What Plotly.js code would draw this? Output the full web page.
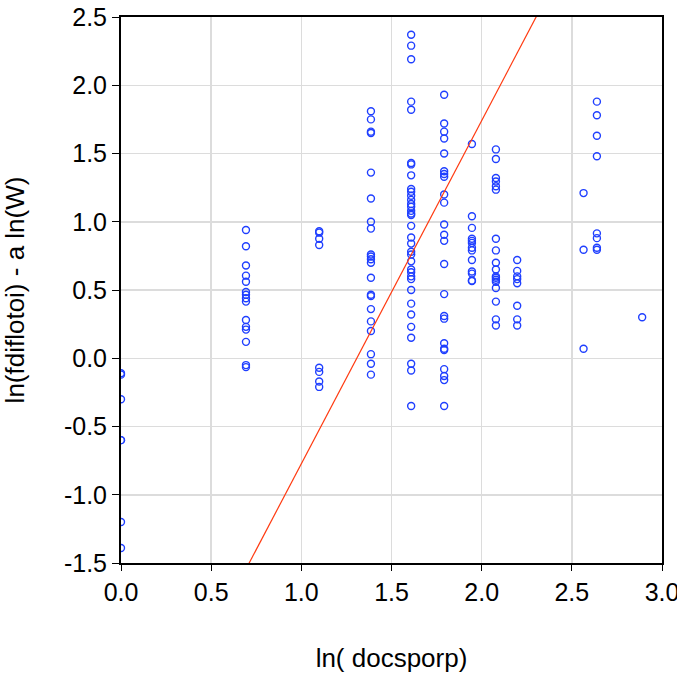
<!DOCTYPE html>
<html>
<head>
<meta charset="utf-8">
<script src="https://cdn.plot.ly/plotly-3.0.1.min.js"></script>
<style>html,body{margin:0;padding:0;background:#fff;}#chart{width:677px;height:673px;}</style>
</head>
<body>
<div id="chart"></div>
<script>
// x levels: ln(docsporp)
const xLevels = [0, 0.693, 1.099, 1.386, 1.609, 1.792, 1.946, 2.079, 2.197, 2.565, 2.639, 2.890];

// y values for each x level: ln(fdiflotoi) - a ln(W)
const yAt0    = [-0.11, -0.12, -0.30, -0.60, -0.60, -1.20, -1.39];
const yAtLn2  = [0.94, 0.82, 0.68, 0.605, 0.56, 0.485, 0.465, 0.44, 0.415, 0.28, 0.23, 0.21, 0.12, -0.05, -0.065];
const yAtLn3  = [0.93, 0.92, 0.875, 0.83, -0.07, -0.10, -0.17, -0.21];
const yAtLn4  = [1.81, 1.75, 1.66, 1.65, 1.36, 1.17, 1.00, 0.95, 0.76, 0.745, 0.725, 0.70, 0.59, 0.465, 0.455, 0.36, 0.27, 0.20, 0.03, -0.04, -0.12];
const yAtLn5  = [2.37, 2.29, 2.19, 1.88, 1.82, 1.43, 1.42, 1.34, 1.24, 1.22, 1.19, 1.16, 1.13, 1.11, 1.08, 1.06, 1.05, 0.97, 0.885, 0.84, 0.78, 0.76, 0.71, 0.65, 0.63, 0.60, 0.58, 0.50, 0.40, 0.32, 0.23, 0.15, -0.04, -0.09, -0.35];
const yAtLn6  = [1.93, 1.72, 1.66, 1.61, 1.50, 1.37, 1.35, 1.33, 1.20, 1.14, 0.98, 0.905, 0.86, 0.69, 0.47, 0.31, 0.29, 0.11, 0.07, 0.06, -0.08, -0.13, -0.16, -0.35];
const yAtLn7  = [1.57, 1.04, 0.955, 0.875, 0.86, 0.845, 0.81, 0.79, 0.72, 0.635, 0.62, 0.57, 0.565];
const yAtLn8  = [1.53, 1.46, 1.32, 1.295, 1.26, 1.235, 0.875, 0.79, 0.70, 0.65, 0.60, 0.59, 0.575, 0.56, 0.515, 0.415, 0.285, 0.24];
const yAtLn9  = [0.72, 0.64, 0.60, 0.58, 0.55, 0.385, 0.285, 0.24];
const yAtLn13 = [1.21, 0.795, 0.07];
const yAtLn14 = [1.88, 1.78, 1.63, 1.48, 0.915, 0.88, 0.81, 0.795];
const yAtLn18 = [0.30];

// fitted line
const fitIntercept = -3.287;
const fitSlope = 2.514;

const xTicks = [0, 0.5, 1.0, 1.5, 2.0, 2.5, 3.0];
const xTickText = ["0.0", "0.5", "1.0", "1.5", "2.0", "2.5", "3.0"];
const yTicks = [-1.5, -1.0, -0.5, 0.0, 0.5, 1.0, 1.5, 2.0, 2.5];
const yTickText = ["-1.5", "-1.0", "-0.5", "0.0", "0.5", "1.0", "1.5", "2.0", "2.5"];

const groups = [yAt0, yAtLn2, yAtLn3, yAtLn4, yAtLn5, yAtLn6, yAtLn7, yAtLn8, yAtLn9, yAtLn13, yAtLn14, yAtLn18];
const px = [], py = [];
groups.forEach((g, i) => g.forEach(v => { px.push(xLevels[i]); py.push(v); }));

const lineX = [0, 3];
const lineY = lineX.map(x => fitIntercept + fitSlope * x);

const tickFont = {family: "Liberation Sans, Arial, sans-serif", size: 25, color: "#000"};
const titleFont = {family: "Liberation Sans, Arial, sans-serif", size: 26, color: "#000"};

const traces = [
  {x: px, y: py, type: "scatter", mode: "markers",
   marker: {symbol: "circle-open", size: 7, color: "#1f3fff", line: {width: 1.4, color: "#1f3fff"}},
   hoverinfo: "x+y"},
  {x: lineX, y: lineY, type: "scatter", mode: "lines",
   line: {color: "#ff3a10", width: 1.2}}
];

const layout = {
  width: 677, height: 673,
  margin: {l: 121, r: 15, t: 17, b: 110},
  paper_bgcolor: "#fff", plot_bgcolor: "#fff",
  showlegend: false,
  font: tickFont,
  xaxis: {
    range: [0, 3], tickvals: xTicks, ticktext: xTickText,
    showgrid: true, gridcolor: "#dcdcdc", gridwidth: 1.5,
    zeroline: false, showline: true, linecolor: "#000", linewidth: 2, mirror: true,
    ticks: "outside", ticklen: 6, tickcolor: "#000", tickwidth: 1,
    tickfont: tickFont, ticklabeloverflow: "allow",
    title: {text: "ln( docsporp)", font: titleFont, standoff: 45}
  },
  yaxis: {
    range: [-1.5, 2.5], tickvals: yTicks, ticktext: yTickText,
    showgrid: true, gridcolor: "#dcdcdc", gridwidth: 1.5,
    zeroline: false, showline: true, linecolor: "#000", linewidth: 2, mirror: true,
    ticks: "outside", ticklen: 7, tickcolor: "#000", tickwidth: 1,
    tickfont: tickFont, ticklabeloverflow: "allow",
    title: {text: "ln(fdiflotoi) - a ln(W)", font: titleFont, standoff: 40}
  }
};

Plotly.newPlot("chart", traces, layout, {displayModeBar: false, staticPlot: true});
</script>
</body>
</html>
